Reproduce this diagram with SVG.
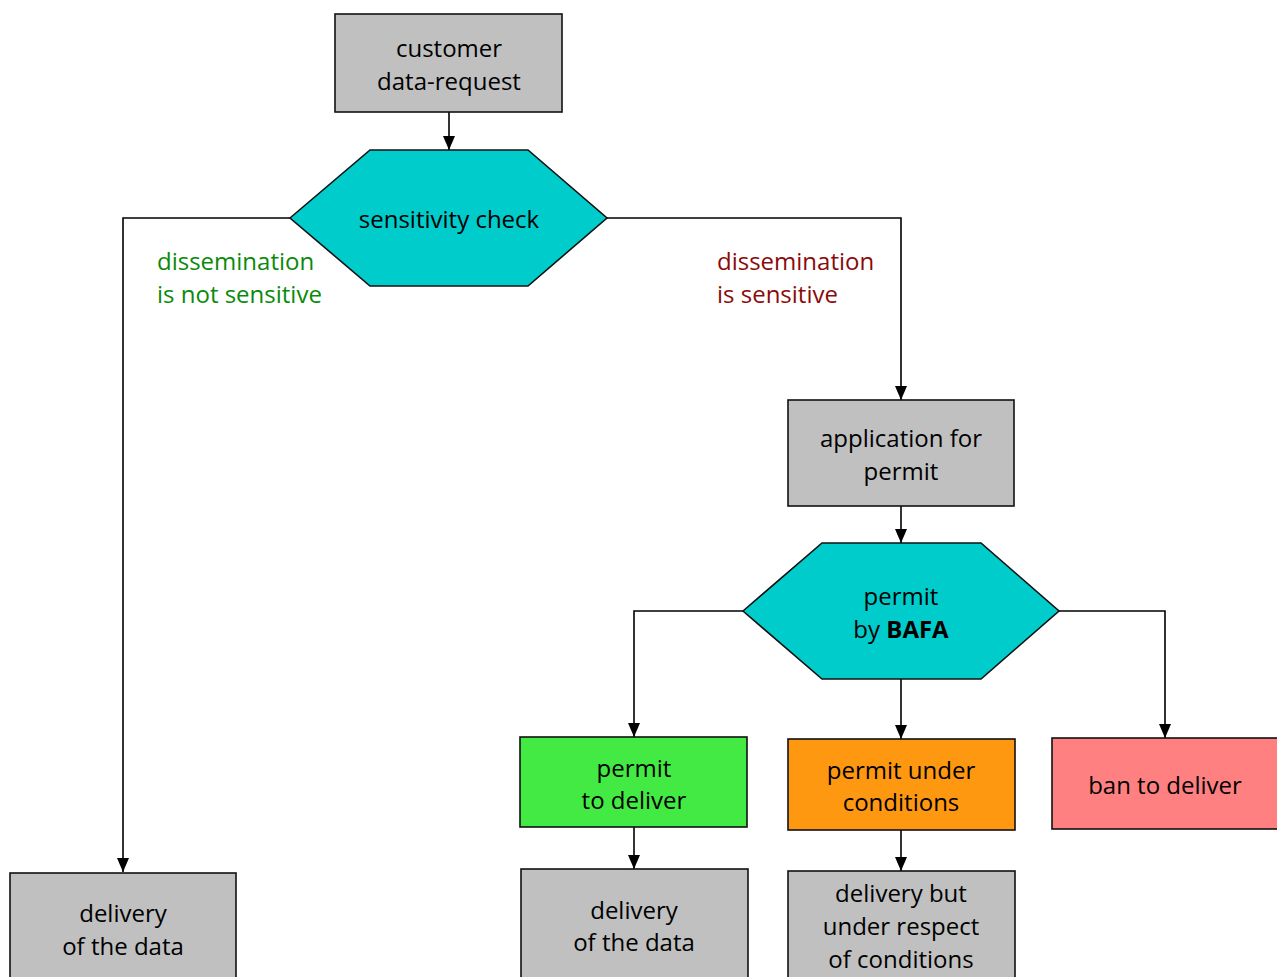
<svg xmlns="http://www.w3.org/2000/svg" width="1277" height="977" viewBox="0 0 1277 977">
  <style>
    .box { fill: #c0c0c0; stroke: #111; stroke-width: 1.6; }
    .hex { fill: #00cccc; stroke: #111; stroke-width: 1.6; }
    .t { font-family: "Open Sans", "Noto Sans", sans-serif; font-size: 24px; fill: #000; text-anchor: middle; dominant-baseline: central; }
    .lbl { font-family: "Open Sans", "Noto Sans", sans-serif; font-size: 24px; dominant-baseline: central; }
    .edge { fill: none; stroke: #000; stroke-width: 1.6; }
  </style>
  <defs>
    <marker id="arrow" viewBox="0 0 14 12" refX="14" refY="6" markerWidth="14" markerHeight="12" markerUnits="userSpaceOnUse" orient="auto">
      <path d="M0,0 L14,6 L0,12 Z" fill="#000"/>
    </marker>
  </defs>
  <rect width="1277" height="977" fill="#ffffff"/>

  <g id="connectors">
    <path class="edge" d="M449,112 V150" marker-end="url(#arrow)"/>
    <path class="edge" d="M290,218 H123 V872" marker-end="url(#arrow)"/>
    <path class="edge" d="M607,218 H901 V400" marker-end="url(#arrow)"/>
    <path class="edge" d="M901,506 V543" marker-end="url(#arrow)"/>
    <path class="edge" d="M743,611 H634 V737" marker-end="url(#arrow)"/>
    <path class="edge" d="M901,679 V739" marker-end="url(#arrow)"/>
    <path class="edge" d="M1059,611 H1165 V738" marker-end="url(#arrow)"/>
    <path class="edge" d="M634,827 V869" marker-end="url(#arrow)"/>
    <path class="edge" d="M901,830 V871" marker-end="url(#arrow)"/>
    <text class="lbl" x="157" y="260" fill="#0a8a0a">dissemination</text>
    <text class="lbl" x="157" y="293" fill="#0a8a0a">is not sensitive</text>
    <text class="lbl" x="717" y="260" fill="#8b0a0a">dissemination</text>
    <text class="lbl" x="717" y="293" fill="#8b0a0a">is sensitive</text>
  </g>

  <g id="customer-request">
    <rect class="box" x="335" y="14" width="227" height="98"/>
    <text class="t" x="449" y="47">customer</text>
    <text class="t" x="449" y="80">data-request</text>
  </g>

  <g id="sensitivity-check">
    <polygon class="hex" points="290,218 370,150 528,150 607,218 528,286 370,286"/>
    <text class="t" x="449" y="218">sensitivity check</text>
  </g>

  <g id="application">
    <rect class="box" x="788" y="400" width="226" height="106"/>
    <text class="t" x="901" y="437">application for</text>
    <text class="t" x="901" y="470">permit</text>
  </g>

  <g id="permit-bafa">
    <polygon class="hex" points="743,611 822,543 981,543 1059,611 981,679 822,679"/>
    <text class="t" x="901" y="595">permit</text>
    <text class="t" x="901" y="628">by <tspan font-weight="bold">BAFA</tspan></text>
  </g>

  <g id="permit-to-deliver">
    <rect x="520" y="737" width="227" height="90" fill="#44ea44" stroke="#111" stroke-width="1.6"/>
    <text class="t" x="634" y="767">permit</text>
    <text class="t" x="634" y="799">to deliver</text>
  </g>

  <g id="permit-under-conditions">
    <rect x="788" y="739" width="227" height="91" fill="#ff9811" stroke="#111" stroke-width="1.6"/>
    <text class="t" x="901" y="769">permit under</text>
    <text class="t" x="901" y="801">conditions</text>
  </g>

  <g id="ban-to-deliver">
    <rect x="1052" y="738" width="240" height="91" fill="#ff8080" stroke="#111" stroke-width="1.6"/>
    <text class="t" x="1165" y="784">ban to deliver</text>
  </g>

  <g id="delivery-left">
    <rect class="box" x="10" y="873" width="226" height="120"/>
    <text class="t" x="123" y="912">delivery</text>
    <text class="t" x="123" y="945">of the data</text>
  </g>

  <g id="delivery-permit">
    <rect class="box" x="521" y="869" width="227" height="124"/>
    <text class="t" x="634" y="909">delivery</text>
    <text class="t" x="634" y="941">of the data</text>
  </g>

  <g id="delivery-conditions">
    <rect class="box" x="788" y="871" width="227" height="122"/>
    <text class="t" x="901" y="892">delivery but</text>
    <text class="t" x="901" y="925">under respect</text>
    <text class="t" x="901" y="958">of conditions</text>
  </g>
</svg>
